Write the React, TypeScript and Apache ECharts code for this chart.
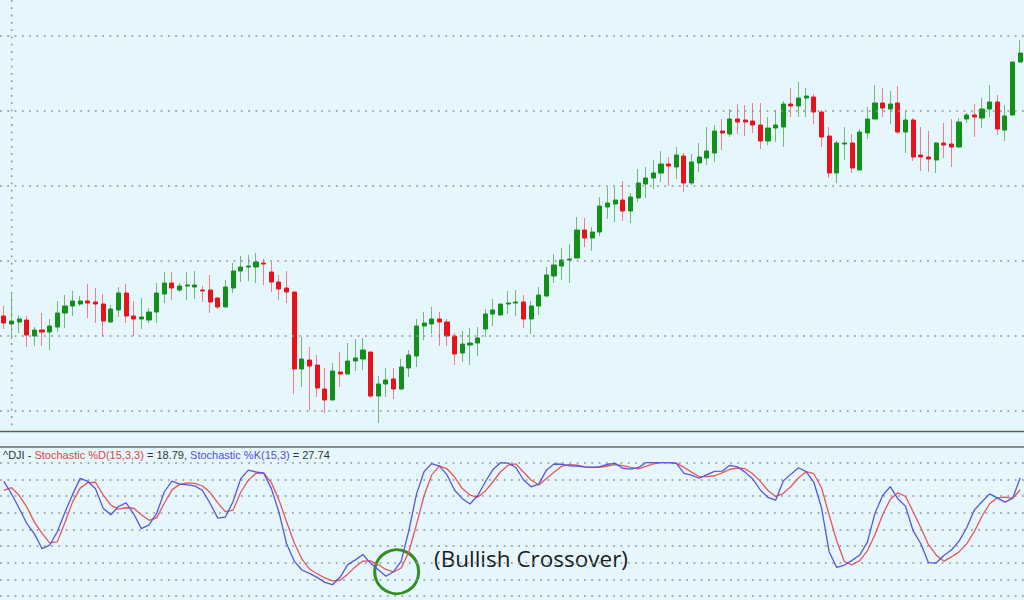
import React, { useEffect, useRef } from "react";
import * as echarts from "echarts";

// ---- price data (one candle per session) ----
const OPEN = [
  16320, 16312, 16314, 16316, 16300, 16306, 16304, 16309, 16323, 16330,
  16332, 16335, 16334, 16332, 16314, 16326, 16343, 16320, 16317, 16316,
  16324, 16342, 16353, 16346, 16350, 16349, 16346, 16346, 16338, 16329,
  16348, 16365, 16369, 16369, 16373, 16364, 16354, 16348, 16344, 16267,
  16276, 16271, 16247, 16236, 16264, 16262, 16275, 16277, 16284, 16240,
  16252, 16257, 16247, 16268, 16280, 16310, 16312, 16317, 16314, 16300,
  16283, 16291, 16293, 16307, 16322, 16321, 16332, 16333, 16334, 16317,
  16330, 16340, 16360, 16370, 16376, 16378, 16406, 16398, 16404, 16429,
  16432, 16436, 16425, 16438, 16452, 16458, 16463, 16472, 16469, 16480,
  16453, 16473, 16478, 16483, 16505, 16502, 16517, 16516, 16515, 16511,
  16495, 16508, 16509, 16532, 16530, 16538, 16539, 16524, 16500, 16463,
  16492, 16493, 16466, 16503, 16517, 16533, 16527, 16533, 16504, 16516,
  16481, 16479, 16476, 16493, 16492, 16489, 16517, 16521, 16518, 16527,
  16534, 16506, 16521, 16574,
];
const CLOSE = [
  16313, 16315, 16317, 16301, 16306, 16304, 16310, 16323, 16330, 16335,
  16335, 16333, 16332, 16315, 16327, 16343, 16320, 16317, 16319, 16324,
  16343, 16353, 16348, 16350, 16351, 16351, 16345, 16334, 16329, 16349,
  16365, 16369, 16370, 16374, 16372, 16354, 16347, 16344, 16267, 16277,
  16270, 16248, 16236, 16265, 16262, 16275, 16278, 16286, 16240, 16252,
  16256, 16247, 16269, 16281, 16310, 16313, 16317, 16314, 16300, 16282,
  16292, 16293, 16298, 16322, 16326, 16332, 16333, 16334, 16317, 16330,
  16341, 16361, 16371, 16376, 16377, 16406, 16398, 16404, 16430, 16433,
  16436, 16425, 16439, 16453, 16458, 16463, 16472, 16470, 16481, 16453,
  16474, 16479, 16485, 16505, 16503, 16517, 16514, 16514, 16511, 16495,
  16508, 16511, 16532, 16530, 16538, 16540, 16524, 16499, 16463, 16493,
  16493, 16468, 16504, 16517, 16533, 16528, 16532, 16504, 16516, 16479,
  16479, 16477, 16493, 16491, 16489, 16514, 16521, 16519, 16527, 16534,
  16507, 16520, 16574, 16583,
];
const LOW = [
  16307, 16297, 16303, 16289, 16290, 16290, 16286, 16304, 16308, 16320,
  16330, 16318, 16313, 16300, 16313, 16319, 16313, 16300, 16307, 16313,
  16313, 16333, 16336, 16344, 16336, 16337, 16334, 16323, 16327, 16329,
  16343, 16354, 16355, 16353, 16351, 16344, 16336, 16333, 16242, 16249,
  16226, 16239, 16223, 16236, 16249, 16262, 16265, 16266, 16238, 16213,
  16239, 16237, 16246, 16259, 16269, 16296, 16302, 16290, 16290, 16271,
  16274, 16271, 16280, 16299, 16310, 16321, 16322, 16320, 16308, 16302,
  16321, 16339, 16353, 16356, 16353, 16378, 16389, 16385, 16400, 16417,
  16414, 16415, 16413, 16434, 16438, 16447, 16454, 16450, 16457, 16444,
  16451, 16464, 16471, 16474, 16486, 16499, 16502, 16500, 16503, 16487,
  16491, 16494, 16489, 16519, 16519, 16519, 16512, 16489, 16458, 16453,
  16476, 16463, 16466, 16497, 16517, 16519, 16512, 16502, 16483, 16475,
  16465, 16464, 16463, 16478, 16469, 16489, 16513, 16499, 16508, 16519,
  16501, 16495, 16521, 16574,
];
const HIGH = [
  16330, 16344, 16321, 16320, 16309, 16323, 16317, 16335, 16341, 16345,
  16340, 16352, 16348, 16342, 16331, 16349, 16352, 16335, 16338, 16328,
  16353, 16364, 16364, 16353, 16364, 16365, 16350, 16361, 16339, 16356,
  16373, 16380, 16381, 16383, 16377, 16374, 16361, 16365, 16344, 16299,
  16289, 16281, 16268, 16273, 16284, 16293, 16297, 16298, 16284, 16260,
  16268, 16268, 16277, 16286, 16317, 16324, 16329, 16324, 16317, 16303,
  16305, 16308, 16309, 16327, 16337, 16332, 16345, 16346, 16341, 16335,
  16349, 16369, 16382, 16388, 16392, 16419, 16418, 16409, 16439, 16449,
  16449, 16455, 16443, 16467, 16469, 16476, 16485, 16479, 16489, 16483,
  16482, 16493, 16509, 16511, 16517, 16527, 16532, 16531, 16533, 16533,
  16519, 16526, 16535, 16548, 16554, 16548, 16542, 16526, 16509, 16495,
  16509, 16502, 16507, 16529, 16551, 16548, 16545, 16550, 16525, 16518,
  16509, 16505, 16494, 16513, 16517, 16518, 16523, 16532, 16538, 16551,
  16541, 16531, 16574, 16596,
];

// ---- stochastic oscillator ----
const STOCH_K = [
  86, 76.7, 65.8, 54.4, 46.6, 35.6, 38.1, 48.2, 62.8, 76.2,
  88.2, 85.9, 80.4, 65.9, 60.9, 67.1, 69.9, 61.5, 50.5, 53.3,
  61.9, 78, 86.2, 83.9, 83.4, 82.6, 79.1, 69.4, 58.4, 59.2,
  70.9, 88, 94.4, 93, 92.2, 80.7, 62.9, 39.2, 26.2, 19.5,
  17, 14, 10.2, 8.5, 14, 23.5, 27.1, 31.1, 24.5, 19.7,
  14.8, 18.2, 26.2, 49, 76.4, 93.4, 99.3, 97.4, 90.8, 79.3,
  73, 69, 75.2, 85.5, 94.8, 100, 99.7, 96.4, 87.2, 81.9,
  83.9, 94.4, 99, 98.8, 97.7, 97.5, 96.8, 96.4, 97.1, 98.8,
  99.5, 95.8, 95.1, 96.2, 100, 100, 100, 100, 99.6, 92,
  90.7, 88.3, 91, 93.4, 93.6, 98, 96.9, 92.9, 87.8, 79.5,
  73.9, 71.9, 86.3, 91.4, 96.2, 93.3, 85.3, 66.2, 33.2, 21.4,
  23.2, 26.7, 30.7, 40.4, 62, 75.4, 82, 72.9, 67.2, 48.8,
  39.2, 25, 24.7, 30.4, 34.5, 41.2, 51.2, 64.5, 70.7, 76.6,
  73.6, 70.4, 73.2, 88.5,
];
const STOCH_D = [
  79.2, 81.2, 75.5, 66.8, 55.4, 47, 39.8, 40.6, 55.2, 70.6,
  80.9, 85.1, 85.3, 75.9, 68.1, 65.2, 66.2, 65.8, 60.9, 56.8,
  58.6, 69.6, 79.6, 83.7, 84.9, 84.5, 82.5, 77.6, 69.8, 63.2,
  64.4, 77.8, 86.9, 92, 92.3, 85.1, 72.1, 55.7, 40, 27.8,
  20.2, 16.7, 13.6, 11.3, 11.8, 16.4, 22, 26.2, 26.3, 23.4,
  19.9, 18, 21, 33, 53.5, 75.4, 90.9, 97.6, 95.4, 89.1,
  80.6, 75.7, 74, 78.7, 85.7, 93.2, 98.1, 99.1, 93, 87,
  83.3, 88.1, 92.8, 97.4, 98.5, 98.1, 96.9, 96.5, 96.5, 97.5,
  98.5, 97.8, 96.4, 95.3, 97.3, 99.1, 100, 100, 99.5, 96.6,
  92.9, 89.6, 89.5, 90.2, 92.4, 95, 96, 95.5, 91.7, 86,
  79.1, 74.6, 77, 82.1, 88.7, 93.2, 91.7, 81.2, 60.8, 41.2,
  25.7, 23.4, 26.5, 33.9, 46, 61, 72.5, 77.4, 74.6, 63.2,
  51.2, 38.5, 30.8, 26, 29.3, 33.1, 39.1, 48.4, 59.8, 69.2,
  73.6, 74.1, 73.3, 79.7,
];

const PRICE_GRID_LEVELS = [16225, 16300, 16375, 16450, 16525, 16600];

const LEGEND_PARTS: [string, string][] = [
  ["^DJI - ", "k"],
  ["Stochastic %D(15,3,3)", "r"],
  [" = 18.79, ", "k"],
  ["Stochastic %K(15,3)", "b"],
  [" = 27.74", "k"],
];
const ANNOTATION = "(Bullish Crossover)";

const UP = "#12901a";
const DOWN = "#e8121c";
const WICK_UP = "#6fbb73";
const WICK_DOWN = "#ef7f87";
const K_COLOR = "#5a55dc";
const D_COLOR = "#e8545a";
const DOT = "#929292";
const DOT_DASH = [1.8, 5.5];

export default function App() {
  const ref = useRef<HTMLDivElement>(null);

  useEffect(() => {
    if (!ref.current) return;
    const chart = echarts.init(ref.current, undefined, { renderer: "svg" });

    const categories = OPEN.map((_, i) => `S${i + 1}`);
    const candles = OPEN.map((o, i) => [o, CLOSE[i], LOW[i], HIGH[i]]);
    const bodies = OPEN.map((o, i) => [
      o,
      CLOSE[i],
      Math.min(o, CLOSE[i]),
      Math.max(o, CLOSE[i]),
    ]);

    const hiddenX = (gridIndex: number) => ({
      type: "category" as const,
      gridIndex,
      data: categories,
      boundaryGap: true,
      axisLine: { show: false },
      axisTick: { show: false },
      axisLabel: { show: false },
      splitLine: { show: false },
    });

    const legendText = LEGEND_PARTS.map(([t, s]) => `{${s}|${t}}`).join("");
    const legendFont = { fontSize: 11, fontFamily: "Liberation Sans, Arial, sans-serif" };

    const option: any = {
      animation: false,
      backgroundColor: "#e5f7fd",
      grid: [
        { left: 0, right: 0, top: 0, height: 431 },
        { left: 0, right: 0, top: 462.67, height: 133.33 },
      ],
      xAxis: [hiddenX(0), hiddenX(1)],
      yAxis: [
        {
          type: "value",
          gridIndex: 0,
          min: 16205,
          max: 16636,
          axisLine: { show: false },
          axisTick: { show: false },
          axisLabel: { show: false },
          splitLine: { show: false },
        },
        {
          type: "value",
          gridIndex: 1,
          min: 0,
          max: 100,
          interval: 12.5,
          axisLine: { show: false },
          axisTick: { show: false },
          axisLabel: { show: false },
          splitLine: {
            show: true,
            lineStyle: { color: DOT, width: 1.5, type: DOT_DASH },
          },
        },
      ],
      series: [
        {
          type: "candlestick",
          name: "range",
          xAxisIndex: 0,
          yAxisIndex: 0,
          data: candles,
          barWidth: 1,
          z: 2,
          itemStyle: {
            color: WICK_UP,
            color0: WICK_DOWN,
            borderColor: WICK_UP,
            borderColor0: WICK_DOWN,
            borderWidth: 1,
          },
          markLine: {
            silent: true,
            symbol: ["none", "none"],
            label: { show: false },
            lineStyle: { color: DOT, width: 1.5, type: DOT_DASH },
            data: PRICE_GRID_LEVELS.map((v) => ({ yAxis: v })),
          },
        },
        {
          type: "candlestick",
          name: "body",
          xAxisIndex: 0,
          yAxisIndex: 0,
          data: bodies,
          barWidth: 4.6,
          z: 3,
          itemStyle: {
            color: UP,
            color0: DOWN,
            borderColor: UP,
            borderColor0: DOWN,
            borderWidth: 1,
          },
        },
        {
          type: "line",
          name: "Stochastic %D(15,3,3)",
          xAxisIndex: 1,
          yAxisIndex: 1,
          data: STOCH_D,
          symbol: "none",
          showSymbol: false,
          clip: false,
          z: 3,
          lineStyle: { color: D_COLOR, width: 1.3 },
          itemStyle: { color: D_COLOR },
        },
        {
          type: "line",
          name: "Stochastic %K(15,3)",
          xAxisIndex: 1,
          yAxisIndex: 1,
          data: STOCH_K,
          symbol: "none",
          showSymbol: false,
          clip: false,
          z: 4,
          lineStyle: { color: K_COLOR, width: 1.3 },
          itemStyle: { color: K_COLOR },
        },
      ],
      graphic: [
        {
          type: "line",
          silent: true,
          shape: { x1: 11.7, y1: 0, x2: 11.7, y2: 430 },
          style: { stroke: DOT, lineWidth: 1.5, lineDash: DOT_DASH },
        },
        {
          type: "line",
          silent: true,
          shape: { x1: 0, y1: 431.5, x2: 1024, y2: 431.5 },
          style: { stroke: "#5e5e5e", lineWidth: 1.5 },
        },
        {
          type: "line",
          silent: true,
          shape: { x1: 0, y1: 447, x2: 1024, y2: 447 },
          style: { stroke: "#6a6a6a", lineWidth: 1.5 },
        },
        {
          type: "text",
          silent: true,
          x: 3,
          y: 454.5,
          style: {
            text: legendText,
            ...legendFont,
            fill: "#333333",
            verticalAlign: "middle",
            rich: {
              k: { ...legendFont, fill: "#333333" },
              r: { ...legendFont, fill: "#e0443e" },
              b: { ...legendFont, fill: "#4f4fd6" },
            },
          },
        },
        {
          type: "circle",
          silent: true,
          shape: { cx: 396.7, cy: 571.7, r: 22 },
          style: { fill: "none", stroke: "#32901e", lineWidth: 3 },
        },
        {
          type: "text",
          silent: true,
          x: 434,
          y: 558.5,
          style: {
            text: ANNOTATION,
            fontSize: 22.5,
            fontFamily: "Open Sans, Noto Sans, sans-serif",
            fill: "#1c1c1c",
            verticalAlign: "middle",
          },
        },
      ],
    };

    chart.setOption(option);
    return () => chart.dispose();
  }, []);

  return (
    <div
      ref={ref}
      style={{ position: "fixed", left: 0, top: 0, width: 1024, height: 600 }}
    />
  );
}
